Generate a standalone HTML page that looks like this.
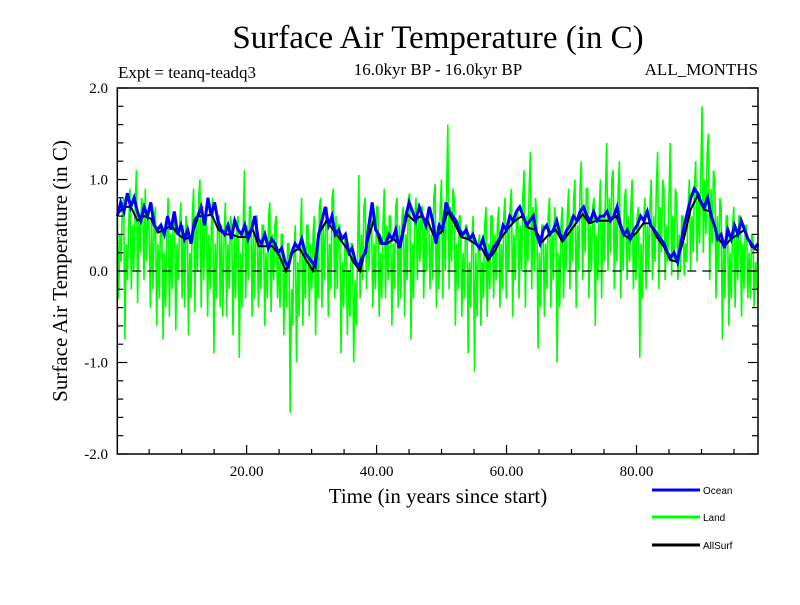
<!DOCTYPE html>
<html><head><meta charset="utf-8"><style>
body{margin:0;background:#fff;}
svg text{font-family:"Liberation Serif",serif;}
</style></head><body>
<svg id="chart" width="800" height="600" xmlns="http://www.w3.org/2000/svg">
<rect width="800" height="600" fill="#fff"/>
<text x="438" y="48" font-size="33" text-anchor="middle">Surface Air Temperature (in C)</text>
<text x="118" y="78" font-size="17">Expt = teanq-teadq3</text>
<text x="438" y="75" font-size="17" text-anchor="middle">16.0kyr BP - 16.0kyr BP</text>
<text x="758" y="75" font-size="17" text-anchor="end">ALL_MONTHS</text>
<text x="438" y="503" font-size="21" text-anchor="middle">Time (in years since start)</text>
<text transform="translate(67,271) rotate(-90)" font-size="21" text-anchor="middle">Surface Air Temperature (in C)</text>
<g id="plot"></g>
<g id="axes"></g>
<g id="legend"></g>
</svg>
<script>
const ocean=[0.6,0.75,0.65,0.85,0.7,0.8,0.65,0.55,0.7,0.6,0.75,0.5,0.45,0.5,0.4,0.6,0.45,0.65,0.4,0.5,0.35,0.45,0.3,0.55,0.6,0.7,0.5,0.8,0.6,0.75,0.55,0.45,0.4,0.5,0.35,0.55,0.45,0.4,0.5,0.35,0.45,0.6,0.35,0.3,0.4,0.25,0.35,0.3,0.2,0.25,0.1,0.05,0.2,0.3,0.25,0.35,0.2,0.15,0.1,0.05,0.4,0.55,0.7,0.5,0.6,0.4,0.45,0.35,0.4,0.2,0.25,0.1,0.05,0.15,0.2,0.5,0.75,0.45,0.4,0.3,0.3,0.4,0.35,0.45,0.25,0.4,0.6,0.75,0.65,0.55,0.7,0.6,0.5,0.7,0.55,0.3,0.5,0.45,0.75,0.65,0.6,0.55,0.45,0.4,0.45,0.35,0.4,0.3,0.25,0.35,0.2,0.15,0.25,0.3,0.35,0.5,0.45,0.6,0.55,0.65,0.7,0.6,0.5,0.55,0.6,0.4,0.3,0.45,0.5,0.4,0.45,0.55,0.4,0.35,0.45,0.5,0.6,0.55,0.65,0.7,0.6,0.55,0.65,0.55,0.6,0.6,0.65,0.55,0.6,0.7,0.5,0.4,0.45,0.35,0.45,0.5,0.6,0.55,0.65,0.5,0.45,0.4,0.35,0.3,0.2,0.15,0.2,0.1,0.3,0.5,0.65,0.8,0.9,0.85,0.75,0.7,0.8,0.6,0.5,0.35,0.4,0.25,0.45,0.35,0.5,0.4,0.55,0.45,0.35,0.3,0.25,0.3];
const land=[0.6,-0.3,0.4,0.1,0.7,0.8,-0.75,0.3,-0.1,0.5,0.9,-0.2,0.5,0.0,0.7,1.1,-0.35,0.6,0.2,0.8,0.7,-0.1,0.9,0.1,0.6,0.5,-0.4,0.6,-0.2,0.5,0.7,-0.6,0.3,-0.3,0.5,0.5,-0.75,0.2,-0.4,0.4,0.8,-0.5,0.4,-0.2,0.6,0.6,-0.65,0.3,-0.1,0.5,0.75,-0.3,0.5,-0.4,0.6,0.5,-0.7,0.2,-0.3,0.6,0.9,-0.45,0.6,0.0,0.8,1.0,-0.4,0.7,-0.1,0.6,0.7,-0.5,0.4,-0.2,0.5,0.8,-0.9,0.3,-0.3,0.6,0.6,-0.4,0.5,-0.5,0.4,0.75,-0.5,0.3,-0.2,0.6,0.5,-0.7,0.4,-0.3,0.5,0.6,-0.95,0.2,-0.4,0.5,1.1,-0.3,0.5,-0.1,0.7,0.7,-0.5,0.4,-0.3,0.6,0.6,-0.4,0.3,-0.2,0.5,0.5,-0.6,0.2,-0.3,0.6,0.75,-0.45,0.4,-0.1,0.5,0.6,-0.3,0.2,-0.4,0.4,0.4,-0.7,0.1,-0.4,0.3,0.3,-1.55,-0.2,-0.6,0.2,0.5,-1.0,0.1,-0.5,0.4,0.8,-0.6,0.2,-0.3,0.5,0.5,-0.5,0.3,-0.2,0.4,0.6,-0.7,0.2,-0.3,0.7,0.8,-0.4,0.5,-0.1,0.6,0.7,-0.5,0.3,-0.2,0.8,0.9,-0.3,0.6,-0.2,0.5,0.5,-0.9,0.1,-0.4,0.4,0.4,-0.7,0.0,-0.5,0.3,0.3,-1.0,-0.1,-0.6,0.2,1.05,-0.3,0.4,-0.1,0.7,0.8,-0.2,0.5,0.0,0.6,0.6,-0.4,0.3,-0.2,0.7,0.7,-0.5,0.2,-0.3,0.5,0.9,-0.3,0.5,-0.1,0.6,0.6,-0.6,0.3,-0.2,0.7,0.8,-0.4,0.5,-0.3,0.6,0.7,-0.5,0.4,-0.1,0.8,0.85,-0.75,0.3,-0.3,0.6,0.8,-0.1,0.6,0.1,0.7,0.7,-0.3,0.5,0.0,0.6,0.6,-0.2,0.4,-0.1,0.8,0.95,-0.4,0.5,-0.2,0.7,1.0,-0.3,0.6,0.0,0.8,1.6,-0.2,0.7,0.1,0.9,0.8,-0.6,0.3,-0.2,0.6,0.6,-0.5,0.2,-0.3,0.5,0.5,-0.9,0.1,-0.4,0.4,0.6,-1.1,0.2,-0.5,0.3,0.4,-0.6,0.1,-0.3,0.5,0.7,-0.5,0.3,-0.2,0.6,0.6,-0.3,0.4,-0.1,0.5,0.7,-0.4,0.3,-0.2,0.6,0.8,-0.3,0.5,0.0,0.7,0.9,-0.5,0.4,-0.1,0.6,0.7,-0.3,0.5,0.0,0.8,1.1,-0.4,0.6,0.1,0.9,1.3,-0.2,0.7,0.0,0.8,0.6,-0.85,0.2,-0.4,0.5,0.5,-0.5,0.3,-0.2,0.6,0.8,-0.4,0.4,-0.1,0.7,0.5,-1.0,0.2,-0.4,0.5,0.7,-0.3,0.4,0.0,0.6,0.9,-0.2,0.6,0.1,0.8,1.0,-0.4,0.5,0.0,0.9,1.2,-0.1,0.7,0.2,0.9,0.9,-0.3,0.5,0.0,0.7,0.8,-0.6,0.4,-0.1,0.6,1.0,-0.3,0.6,0.1,0.9,1.4,0.0,0.8,0.2,1.0,1.1,-0.2,0.6,0.1,0.9,1.2,-0.3,0.5,0.0,0.8,0.9,-0.1,0.6,0.1,0.7,1.0,-0.2,0.4,-0.1,0.6,0.7,-0.95,0.3,-0.3,0.5,0.8,-0.2,0.5,0.0,0.7,1.0,-0.1,0.6,0.1,0.9,1.3,-0.2,0.7,0.2,1.0,0.9,-0.1,0.5,0.1,0.8,1.4,-0.05,0.6,0.1,0.9,0.8,-0.1,0.4,0.0,0.6,0.6,-0.05,0.3,0.1,0.7,1.0,0.0,0.6,0.2,0.9,1.2,0.1,0.8,0.3,1.1,1.8,0.2,1.0,0.4,1.3,1.5,-0.1,0.9,0.3,1.1,1.0,-0.3,0.6,0.0,0.8,0.7,-0.75,0.3,-0.3,0.6,0.6,-0.6,0.2,-0.3,0.5,0.7,-0.4,0.4,-0.1,0.6,0.6,-0.5,0.3,-0.2,0.5,0.5,-0.3,0.2,-0.3,0.4,0.4,-0.4,0.1,-0.2,0.3];
const allsurf=[0.62,0.7,0.7,0.55,0.6,0.57,0.42,0.45,0.5,0.4,0.35,0.37,0.6,0.6,0.62,0.45,0.4,0.4,0.37,0.37,0.47,0.27,0.27,0.27,0.17,0.0,0.2,0.25,0.12,0.0,0.42,0.55,0.45,0.35,0.25,0.1,0.0,0.3,0.55,0.3,0.3,0.35,0.27,0.62,0.55,0.6,0.55,0.37,0.42,0.65,0.52,0.37,0.35,0.3,0.25,0.12,0.22,0.37,0.47,0.55,0.6,0.47,0.45,0.32,0.4,0.45,0.32,0.42,0.52,0.62,0.52,0.55,0.55,0.55,0.6,0.4,0.35,0.42,0.52,0.52,0.37,0.27,0.12,0.1,0.35,0.67,0.82,0.67,0.65,0.37,0.27,0.35,0.4,0.45,0.27,0.22];
const yTicks=["2.0","1.0","0.0","-1.0","-2.0"];
const yTickVals=[2,1,0,-1,-2];
const xTicks=["20.00","40.00","60.00","80.00"];
const xTickVals=[20,40,60,80];

const X0=117.3,X1=758,Y0=88,Y1=454,XMIN=0.1,XMAX=98.7,YMIN=-2,YMAX=2;
const NS='http://www.w3.org/2000/svg';
function sx(v){return X0+(v-XMIN)/(XMAX-XMIN)*(X1-X0);}
function sy(v){return Y1-(v-YMIN)/(YMAX-YMIN)*(Y1-Y0);}
function mk(tag,attrs,parent){const e=document.createElementNS(NS,tag);for(const k in attrs)e.setAttribute(k,attrs[k]);parent.appendChild(e);return e;}
const plot=document.getElementById('plot'),axes=document.getElementById('axes'),legend=document.getElementById('legend');
function series(arr,color,w,name){
  const n=arr.length;
  const pts=arr.map((v,i)=>sx(XMIN+i*(XMAX-XMIN)/(n-1)).toFixed(1)+','+sy(v).toFixed(1)).join(' ');
  const p=mk('polyline',{points:pts,fill:'none',stroke:color,'stroke-width':w,'stroke-linejoin':'miter'},plot);
  
  
}
series(land,'#00ff00',1.6,'land-series');
series(allsurf,'#000000',2,'allsurf-series');
series(ocean,'#0000ff',3,'ocean-series');
const zl=mk('line',{x1:X0,x2:X1,y1:sy(0),y2:sy(0),stroke:'#000','stroke-width':1.2,'stroke-dasharray':'9,6'},plot);


const fr=mk('rect',{x:X0,y:Y0,width:X1-X0,height:Y1-Y0,fill:'none',stroke:'#000','stroke-width':1.5},axes);


for(let v=-2;v<=2.001;v+=0.2){const y=sy(v);const major=Math.abs(v-Math.round(v))<0.01;const L=major?10:6;
  mk('line',{x1:X0,x2:X0+L,y1:y,y2:y,stroke:'#000','stroke-width':1.2},axes);
  mk('line',{x1:X1-L,x2:X1,y1:y,y2:y,stroke:'#000','stroke-width':1.2},axes);}
for(let v=5;v<XMAX;v+=5){const x=sx(v);const L=(v%20===0)?9:5;mk('line',{x1:x,x2:x,y1:Y1,y2:Y1-L,stroke:'#000','stroke-width':1.2},axes);}
yTicks.forEach((t,i)=>{const e=mk('text',{x:108,y:sy(yTickVals[i])+5,'font-size':15,'text-anchor':'end'},axes);e.textContent=t;
  
  });
xTicks.forEach((t,i)=>{const e=mk('text',{x:sx(xTickVals[i]),y:476,'font-size':15,'text-anchor':'middle'},axes);e.textContent=t;
  
  });
const leg=[['Ocean','#0000ff',490],['Land','#00ff00',517],['AllSurf','#000000',545]];
leg.forEach(l=>{const g=mk('g',{},legend);
  
  
  mk('line',{x1:652,x2:700,y1:l[2],y2:l[2],stroke:l[1],'stroke-width':3},g);
  const t=mk('text',{x:703,y:l[2]+4,'font-size':10,style:'font-family:"Liberation Sans",sans-serif'},g);t.textContent=l[0];});
</script>
</body></html>
